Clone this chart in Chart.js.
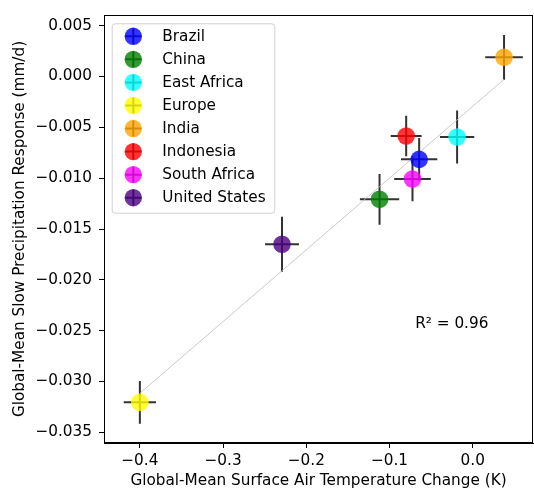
<!DOCTYPE html>
<html><head><meta charset="utf-8">
<script src="https://cdn.jsdelivr.net/npm/chart.js@4.4.1/dist/chart.umd.min.js"></script>
<style>html,body{margin:0;padding:0;background:#fff;} #wrap{width:534px;height:490px;}</style>
</head><body><div id="wrap"><canvas id="c" width="534" height="490"></canvas></div>
<script>
// ---- Data ----
const countries = ['Brazil','China','East Africa','Europe','India','Indonesia','South Africa','United States'];
const tempChange = [-0.0644, -0.112, -0.0188, -0.400, 0.0376, -0.080, -0.0724, -0.2292];
const precipResponse = [-0.00815, -0.01208, -0.00595, -0.03205, 0.00189, -0.00585, -0.01008, -0.0165];
const tempErr = [0.0218, 0.0236, 0.0206, 0.0194, 0.0226, 0.0186, 0.0220, 0.0204];
const precipErr = [0.0021, 0.0025, 0.0026, 0.0021, 0.0022, 0.0020, 0.0022, 0.0027];
const colors = ['rgba(0,0,255,0.8)','rgba(0,128,0,0.8)','rgba(0,255,255,0.8)','rgba(255,255,0,0.8)','rgba(255,165,0,0.8)','rgba(255,0,0,0.8)','rgba(255,0,255,0.8)','rgba(75,0,130,0.8)'];
const fitLineX = [-0.400, 0.0376];
const fitLineY = [-0.03116, -0.00028];
const xTicks = [-0.4, -0.3, -0.2, -0.1, 0.0];
const yTicks = [-0.035, -0.030, -0.025, -0.020, -0.015, -0.010, -0.005, 0.000, 0.005];
const rSquaredText = 'R\u00B2 = 0.96';
const rSquaredPos = {x: -0.0692, y: -0.02435};
const xTitle = 'Global-Mean Surface Air Temperature Change (K)';
const yTitle = 'Global-Mean Slow Precipitation Response (mm/d)';

const FONT = 'DejaVu Sans';
const FS = 15.28;
Chart.defaults.font.family = FONT;
Chart.defaults.color = '#000';

const datasets = countries.map((c, i) => ({
  type: 'scatter',
  label: c,
  data: [{x: tempChange[i], y: precipResponse[i]}],
  backgroundColor: colors[i],
  borderWidth: 0,
  pointRadius: 8.8,
  pointHoverRadius: 8.8,
  order: 1
}));
datasets.push({
  type: 'line',
  label: '_fit',
  data: fitLineX.map((x, i) => ({x: x, y: fitLineY[i]})),
  borderColor: '#bdbdbd',
  borderWidth: 0.8,
  pointRadius: 0,
  fill: false,
  order: 10
});

const fmt = (v, d) => {
  const s = Math.abs(v).toFixed(d);
  return (v < -1e-12 ? '\u2212' : '') + s;
};

const errorBars = {
  id: 'errorBars',
  beforeDatasetsDraw(chart) {
    const {ctx, scales: {x, y}} = chart;
    ctx.save();
    ctx.strokeStyle = 'rgba(40,40,40,0.95)';
    ctx.lineWidth = 2;
    ctx.lineCap = 'butt';
    countries.forEach((c, i) => {
      const px = x.getPixelForValue(tempChange[i]);
      const py = y.getPixelForValue(precipResponse[i]);
      ctx.beginPath();
      ctx.moveTo(x.getPixelForValue(tempChange[i] - tempErr[i]), py);
      ctx.lineTo(x.getPixelForValue(tempChange[i] + tempErr[i]), py);
      ctx.moveTo(px, y.getPixelForValue(precipResponse[i] - precipErr[i]));
      ctx.lineTo(px, y.getPixelForValue(precipResponse[i] + precipErr[i]));
      ctx.stroke();
    });
    ctx.restore();
  }
};

const frameAndLegend = {
  id: 'frameAndLegend',
  afterDraw(chart) {
    const {ctx, chartArea: a, scales: {x, y}} = chart;
    ctx.save();
    // plot frame
    ctx.strokeStyle = '#000';
    ctx.lineWidth = 1;
    ctx.strokeRect(Math.round(a.left) + 0.5, Math.round(a.top) + 0.5, Math.round(a.right - a.left) - 1, Math.round(a.bottom - a.top) - 1);
    // R^2 annotation
    ctx.fillStyle = '#000';
    ctx.font = FS + 'px "' + FONT + '"';
    ctx.textAlign = 'left';
    ctx.textBaseline = 'middle';
    ctx.fillText(rSquaredText, x.getPixelForValue(rSquaredPos.x), y.getPixelForValue(rSquaredPos.y));
    // legend
    const lx = a.left + 7.7, ly = a.top + 8.3, lw = 162.6, lh = 189.4;
    ctx.beginPath();
    ctx.roundRect(lx + 0.5, ly + 0.5, lw, lh, 3);
    ctx.fillStyle = 'rgba(255,255,255,0.8)';
    ctx.fill();
    ctx.strokeStyle = '#d0d0d0';
    ctx.lineWidth = 1;
    ctx.stroke();
    const items = chart.data.datasets.filter(d => d.type === 'scatter');
    items.forEach((d, i) => {
      const cy = ly + 13 + i * 23.06;
      const cx = a.left + 29.3;
      ctx.strokeStyle = 'rgba(40,40,40,0.95)';
      ctx.lineWidth = 2;
      ctx.beginPath();
      ctx.moveTo(cx - 8, cy); ctx.lineTo(cx + 8, cy);
      ctx.moveTo(cx, cy - 8); ctx.lineTo(cx, cy + 8);
      ctx.stroke();
      ctx.fillStyle = d.backgroundColor;
      ctx.beginPath();
      ctx.arc(cx, cy, 8.7, 0, Math.PI * 2);
      ctx.fill();
      ctx.fillStyle = '#000';
      ctx.textAlign = 'left';
      ctx.textBaseline = 'middle';
      ctx.fillText(d.label, a.left + 58.3, cy + 0.5);
    });
    ctx.restore();
  }
};

new Chart(document.getElementById('c'), {
  data: {datasets},
  options: {
    responsive: false,
    animation: false,
    events: [],
    layout: {autoPadding: false, padding: {left: 0, right: 1, top: 15, bottom: 0}},
    plugins: {legend: {display: false}, tooltip: {enabled: false}},
    scales: {
      x: {
        type: 'linear', position: 'bottom',
        min: -0.4431, max: 0.0724,
        afterBuildTicks: s => { s.ticks = xTicks.map(v => ({value: v})); },
        afterFit: s => { s.height = 47; s.paddingLeft = 0; s.paddingRight = 0; },
        grid: {display: true, drawOnChartArea: false, drawTicks: true, tickLength: 5, tickColor: '#000', tickWidth: 1},
        border: {display: true, color: '#000', width: 1},
        ticks: {padding: 4, autoSkip: false, maxRotation: 0, color: '#000', font: {size: FS}, callback: v => fmt(v, 1)},
        title: {display: true, text: xTitle, color: '#000', font: {size: FS}, padding: {top: 0, bottom: 0}}
      },
      y: {
        type: 'linear', position: 'left',
        min: -0.03605, max: 0.00605,
        afterBuildTicks: s => { s.ticks = yTicks.map(v => ({value: v})); },
        afterFit: s => { s.width = 104; s.paddingTop = 0; s.paddingBottom = 0; },
        grid: {display: true, drawOnChartArea: false, drawTicks: true, tickLength: 5, tickColor: '#000', tickWidth: 1},
        border: {display: true, color: '#000', width: 1},
        ticks: {padding: 7, autoSkip: false, color: '#000', font: {size: FS}, callback: v => fmt(v, 3)},
        title: {display: true, text: yTitle, color: '#000', font: {size: FS}, padding: {top: 11, bottom: 0}}
      }
    }
  },
  plugins: [errorBars, frameAndLegend]
});
</script>
</body></html>
